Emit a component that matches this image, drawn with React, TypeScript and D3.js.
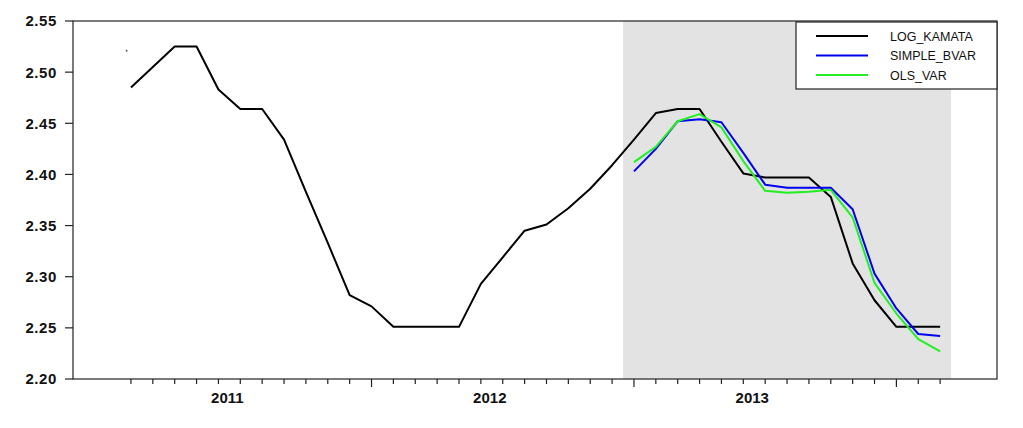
import React from "react";
import * as d3 from "d3";

// Month index: 0 = 2011M01
const logKamataStart = 1; // 2011M02
const logKamata = [
  2.485, 2.505, 2.525, 2.525, 2.483, 2.464, 2.464, 2.434, 2.383, 2.333,
  2.282, 2.271, 2.251, 2.251, 2.251, 2.251, 2.293, 2.319, 2.345, 2.351,
  2.367, 2.386, 2.409, 2.434, 2.460, 2.464, 2.464, 2.432, 2.401, 2.397,
  2.397, 2.397, 2.378, 2.313, 2.277, 2.251, 2.251, 2.251,
];
const forecastStart = 24; // 2013M01
const simpleBvar = [
  2.403, 2.425, 2.452, 2.454, 2.451, 2.421, 2.390, 2.387, 2.387, 2.387,
  2.366, 2.303, 2.269, 2.244, 2.242,
];
const olsVar = [
  2.412, 2.427, 2.452, 2.459, 2.446, 2.413, 2.384, 2.382, 2.383, 2.385,
  2.358, 2.294, 2.264, 2.239, 2.227,
];
const strayPoint = [{ idx: 0.8, value: 2.521 }];
const shadeRange = [23.5, 38.5];
const yTicks = [2.2, 2.25, 2.3, 2.35, 2.4, 2.45, 2.5, 2.55];
const yearLabels = [
  { year: "2011", first: 0, last: 11 },
  { year: "2012", first: 12, last: 23 },
  { year: "2013", first: 24, last: 35 },
];
const tickIdx = d3.range(1, 39);
const majorTicks = [12, 24, 36];
const seriesNames = ["LOG_KAMATA", "SIMPLE_BVAR", "OLS_VAR"];
const seriesColors = ["#000000", "#0000ee", "#22ee22"];

export default function App() {
  const W = 1023;
  const H = 428;
  const left = 73, right = 997, top = 21, bottom = 379;
  const x = d3.scaleLinear().domain([-1.65, 40.6]).range([left, right]);
  const y = d3.scaleLinear().domain([2.2, 2.55]).range([bottom, top]);
  const line = d3
    .line<[number, number]>()
    .x((d) => x(d[0]))
    .y((d) => y(d[1]));

  const s1: [number, number][] = logKamata.map((v, i) => [logKamataStart + i, v]);
  const s2: [number, number][] = simpleBvar.map((v, i) => [forecastStart + i, v]);
  const s3: [number, number][] = olsVar.map((v, i) => [forecastStart + i, v]);
  const series = [s1, s2, s3];
  const font = "'Liberation Sans', Arial, sans-serif";

  return (
    <svg
      width={W}
      height={H}
      style={{ position: "fixed", left: 0, top: 0, background: "#fff" }}
      fontFamily={font}
    >
      <rect x={0} y={0} width={W} height={H} fill="#fff" />
      <rect
        x={x(shadeRange[0])}
        y={top}
        width={x(shadeRange[1]) - x(shadeRange[0])}
        height={bottom - top}
        fill="#e3e3e3"
      />
      {/* frame */}
      <rect x={left} y={top} width={right - left} height={bottom - top} fill="none" stroke="#222" strokeWidth={1.2} />
      {/* y ticks */}
      {yTicks.map((t) => (
        <g key={t}>
          <line x1={left - 8} x2={left} y1={y(t)} y2={y(t)} stroke="#222" strokeWidth={1.2} />
          <text
            x={57}
            y={y(t)}
            dy="0.36em"
            textAnchor="end"
            fontSize={15}
            fontWeight="bold"
            letterSpacing={0.6}
            fill="#111"
          >
            {t.toFixed(2)}
          </text>
        </g>
      ))}
      {/* x ticks */}
      {tickIdx.map((i) => (
        <line
          key={i}
          x1={x(i)}
          x2={x(i)}
          y1={bottom}
          y2={bottom + (majorTicks.includes(i) ? 8 : 5)}
          stroke="#222"
          strokeWidth={1.2}
        />
      ))}
      {yearLabels.map((d) => (
        <text
          key={d.year}
          x={(x(d.first) + x(d.last)) / 2 - 2}
          y={403}
          textAnchor="middle"
          fontSize={15}
          fontWeight="bold"
          fill="#111"
        >
          {d.year}
        </text>
      ))}
      {/* series */}
      {series.map((s, k) => (
        <path
          key={k}
          d={line(s) || ""}
          fill="none"
          stroke={seriesColors[k]}
          strokeWidth={2}
          strokeLinejoin="round"
        />
      ))}
      {strayPoint.map((p, i) => (
        <circle key={i} cx={x(p.idx)} cy={y(p.value)} r={0.9} fill="#444" />
      ))}
      {/* legend */}
      <rect x={796} y={22} width={right - 796} height={67} fill="#fff" stroke="#222" strokeWidth={1.2} />
      {seriesNames.map((n, k) => {
        const ly = 36 + k * 19.5;
        return (
          <g key={n}>
            <line x1={816} x2={868} y1={ly} y2={ly} stroke={seriesColors[k]} strokeWidth={2} />
            <text x={890} y={ly} dy="0.36em" fontSize={12.5} fill="#111">
              {n}
            </text>
          </g>
        );
      })}
    </svg>
  );
}
